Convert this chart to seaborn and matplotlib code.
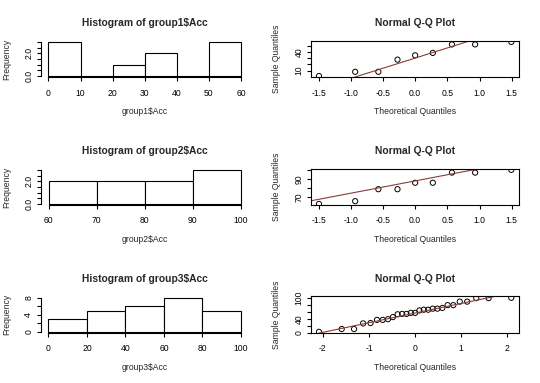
import numpy as np
import pandas as pd
import matplotlib
matplotlib.use("Agg")
import matplotlib.pyplot as plt
import seaborn as sns
from statistics import NormalDist

# Acc values per group (sorted)
group1_acc = [1, 8, 8, 28, 35, 39, 53, 53, 57]
group2_acc = [63, 66, 79, 79, 86, 86, 97, 97, 100]
group3_acc = [3, 11, 11, 27, 28, 37, 37, 39, 45, 53, 54, 54, 57, 57,
              64, 66, 66, 69, 69, 71, 79, 79, 89, 89, 99, 99, 100]

groups = [group1_acc, group2_acc, group3_acc]
group_names = ["group1$Acc", "group2$Acc", "group3$Acc"]

# histogram breaks / ticks
hist_breaks = [[0, 10, 20, 30, 40, 50, 60], [60, 70, 80, 90, 100], [0, 20, 40, 60, 80, 100]]
hist_yticks = [[0, 0.5, 1, 1.5, 2, 2.5, 3], [0, 0.5, 1, 1.5, 2, 2.5, 3], [0, 2, 4, 6, 8]]
hist_ylabels = [["0.0", "", "", "", "2.0", "", ""], ["0.0", "", "", "", "2.0", "", ""],
                ["0", "", "4", "", "8"]]

# q-q ticks
qq_xticks = [[-1.5, -1.0, -0.5, 0.0, 0.5, 1.0, 1.5], [-1.5, -1.0, -0.5, 0.0, 0.5, 1.0, 1.5],
             [-2, -1, 0, 1, 2]]
qq_xlabels = [["-1.5", "-1.0", "-0.5", "0.0", "0.5", "1.0", "1.5"],
              ["-1.5", "-1.0", "-0.5", "0.0", "0.5", "1.0", "1.5"],
              ["-2", "-1", "0", "1", "2"]]
qq_yticks = [[10, 20, 30, 40, 50], [70, 80, 90, 100], [0, 20, 40, 60, 80, 100]]
qq_ylabels = [["10", "", "", "40", ""], ["70", "", "90", ""], ["0", "", "40", "", "", "100"]]

sns.set_style("ticks")
plt.rcParams["font.family"] = ["Liberation Sans", "DejaVu Sans"]
plt.rcParams["axes.unicode_minus"] = False

FS = 6.2
LW = 0.8
nd = NormalDist()


def pad(lo, hi):
    d = (hi - lo) * 0.04
    return lo - d, hi + d


def ppoints(n):
    a = 3 / 8 if n <= 10 else 0.5
    return (np.arange(1, n + 1) - a) / (n + 1 - 2 * a)


def style_axis(ax, box):
    for s in ax.spines.values():
        s.set_linewidth(LW)
        s.set_color("black")
    if not box:
        ax.spines["top"].set_visible(False)
        ax.spines["right"].set_visible(False)
    ax.tick_params(direction="out", length=3, width=LW, labelsize=FS, colors="black")
    ax.tick_params(axis="x", pad=5)
    ax.tick_params(axis="y", pad=2.5)
    for lab in ax.get_yticklabels():
        lab.set_rotation(90)
        lab.set_va("center")
        lab.set_ha("right")


def set_labels(ax, xlabel, ylabel, title, yoff):
    ax.set_title(title, fontsize=7.4, fontweight="bold", pad=10.5)
    ax.set_xlabel(xlabel, fontsize=FS)
    ax.set_ylabel(ylabel, fontsize=FS)
    ax.xaxis.set_label_coords(0.5, -0.93)
    ax.xaxis.label.set_va("center")
    ax.yaxis.set_label_coords(yoff, 0.5)
    ax.yaxis.label.set_va("center")


W, H = 540, 383
fig = plt.figure(figsize=(5.4, 3.83), dpi=100)
row_step = 127.9
left_cols = [(40.8, 248.7), (311.3, 519.0)]

for i, vals in enumerate(groups):
    top = 40.6 + row_step * i
    bot = 77.4 + row_step * i
    rect_h = (bot - top) / H
    y0 = 1 - bot / H

    # histogram
    l, r = left_cols[0]
    ax = fig.add_axes([l / W, y0, (r - l) / W, rect_h])
    df = pd.DataFrame({"acc": vals})
    breaks = hist_breaks[i]
    sns.histplot(data=df, x="acc", bins=breaks, stat="count", color="white",
                 edgecolor="black", linewidth=LW, alpha=1, ax=ax)
    counts = np.histogram(vals, bins=breaks)[0]
    ax.set_xlim(*pad(breaks[0], breaks[-1]))
    ax.set_ylim(*pad(0, counts.max()))
    ax.set_xticks(breaks)
    ax.set_xticklabels([str(b) for b in breaks])
    ax.set_yticks(hist_yticks[i])
    ax.set_yticklabels(hist_ylabels[i])
    ax.spines["left"].set_bounds(0, hist_yticks[i][-1])
    ax.spines["bottom"].set_bounds(breaks[0], breaks[-1])
    style_axis(ax, box=False)
    set_labels(ax, group_names[i], "Frequency", "Histogram of " + group_names[i], -0.164)

    # normal q-q plot
    l, r = left_cols[1]
    ax = fig.add_axes([l / W, y0, (r - l) / W, rect_h])
    sample = np.sort(np.array(vals, dtype=float))
    theo = np.array([nd.inv_cdf(p) for p in ppoints(len(sample))])
    qq = pd.DataFrame({"theo": theo, "sample": sample})
    sns.scatterplot(data=qq, x="theo", y="sample", marker="o", s=14,
                    facecolors="none", edgecolor="black", linewidth=0.7, ax=ax)
    q = np.quantile(sample, [0.25, 0.75])
    z = np.array([nd.inv_cdf(0.25), nd.inv_cdf(0.75)])
    slope = (q[1] - q[0]) / (z[1] - z[0])
    inter = q[0] - slope * z[0]
    ax.axline((0, inter), slope=slope, color="#8b3a3a", linewidth=LW)
    ax.set_xlim(*pad(theo.min(), theo.max()))
    ax.set_ylim(*pad(sample.min(), sample.max()))
    ax.set_xticks(qq_xticks[i])
    ax.set_xticklabels(qq_xlabels[i])
    ax.set_yticks(qq_yticks[i])
    ax.set_yticklabels(qq_ylabels[i])
    style_axis(ax, box=True)
    set_labels(ax, "Theoretical Quantiles", "Sample Quantiles", "Normal Q-Q Plot", -0.1666)

fig.savefig("out.png", dpi=100, facecolor="white")
